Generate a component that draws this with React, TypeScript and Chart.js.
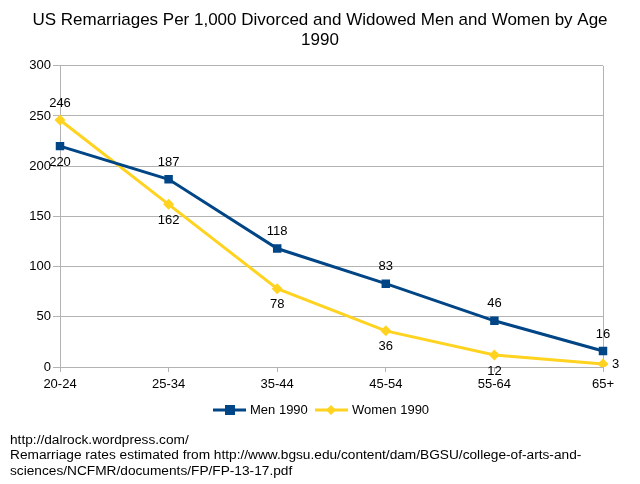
import React, { useEffect, useRef } from "react";
import { Chart, registerables } from "chart.js";

Chart.register(...registerables);

const categories = ["20-24", "25-34", "35-44", "45-54", "55-64", "65+"];
const menValues = [220, 187, 118, 83, 46, 16];
const womenValues = [246, 162, 78, 36, 12, 3];
const menLabelPlacement = ["below", "above", "above", "above", "above", "above"];
const womenLabelPlacement = ["above", "below", "below", "below", "below", "right"];
const titleLines = ["US Remarriages Per 1,000 Divorced and Widowed Men and Women by Age", "1990"];
const footerLines = [
  "http://dalrock.wordpress.com/",
  "Remarriage rates estimated from http://www.bgsu.edu/content/dam/BGSU/college-of-arts-and-",
  "sciences/NCFMR/documents/FP/FP-13-17.pdf",
];

const FONT = "'Liberation Sans', Arial, sans-serif";
const MEN_COLOR = "#004586";
const WOMEN_COLOR = "#ffd320";
const GRID = "#b3b3b3";

const labelsPlugin = {
  id: "customLabels",
  afterDatasetsDraw(chart: any) {
    const ctx = chart.ctx;
    ctx.save();
    ctx.font = `13px ${FONT}`;
    ctx.fillStyle = "#000";
    ctx.textBaseline = "middle";
    const placements = [menLabelPlacement, womenLabelPlacement];
    chart.data.datasets.forEach((ds: any, di: number) => {
      const meta = chart.getDatasetMeta(di);
      meta.data.forEach((pt: any, i: number) => {
        const p = placements[di][i];
        const text = String(ds.data[i]);
        let x = pt.x;
        let y = pt.y;
        ctx.textAlign = "center";
        if (p === "above") y -= 17;
        else if (p === "below") y += 16;
        else if (p === "right") {
          x += 9;
          ctx.textAlign = "left";
        }
        ctx.fillText(text, x, y);
      });
    });
    ctx.restore();
  },
  afterDraw(chart: any) {
    const ctx = chart.ctx;
    ctx.save();
    const ly = 410;
    ctx.font = `13px ${FONT}`;
    ctx.textBaseline = "middle";
    ctx.textAlign = "left";
    ctx.lineWidth = 3;
    ctx.strokeStyle = MEN_COLOR;
    ctx.beginPath();
    ctx.moveTo(213, ly);
    ctx.lineTo(246, ly);
    ctx.stroke();
    ctx.fillStyle = MEN_COLOR;
    ctx.fillRect(225, ly - 5, 10, 10);
    ctx.fillStyle = "#000";
    ctx.fillText("Men 1990", 250, ly);
    ctx.strokeStyle = WOMEN_COLOR;
    ctx.beginPath();
    ctx.moveTo(315, ly);
    ctx.lineTo(348, ly);
    ctx.stroke();
    ctx.fillStyle = WOMEN_COLOR;
    ctx.beginPath();
    ctx.moveTo(331, ly - 5);
    ctx.lineTo(336, ly);
    ctx.lineTo(331, ly + 5);
    ctx.lineTo(326, ly);
    ctx.closePath();
    ctx.fill();
    ctx.fillStyle = "#000";
    ctx.fillText("Women 1990", 352, ly);
    ctx.font = `13.7px ${FONT}`;
    footerLines.forEach((line, i) => {
      ctx.fillText(line, 10, 440 + i * 15.5);
    });
    ctx.restore();
  },
};

export default function App() {
  const ref = useRef<HTMLCanvasElement | null>(null);
  useEffect(() => {
    if (!ref.current) return;
    const chart = new Chart(ref.current, {
      type: "line",
      data: {
        labels: categories,
        datasets: [
          {
            label: "Men 1990",
            data: menValues,
            borderColor: MEN_COLOR,
            backgroundColor: MEN_COLOR,
            borderWidth: 3,
            pointStyle: "rect",
            pointRadius: 6,
            pointBorderWidth: 0,
            tension: 0,
          },
          {
            label: "Women 1990",
            data: womenValues,
            borderColor: WOMEN_COLOR,
            backgroundColor: WOMEN_COLOR,
            borderWidth: 3,
            pointStyle: "rectRot",
            pointRadius: 5.5,
            pointBorderWidth: 0,
            tension: 0,
          },
        ],
      },
      options: {
        animation: false,
        responsive: false,
        maintainAspectRatio: false,
        layout: { padding: { top: 0, left: 0, right: 0, bottom: 87 } },
        plugins: {
          legend: { display: false },
          tooltip: { enabled: false },
          title: {
            display: true,
            text: titleLines,
            color: "#000",
            font: { family: FONT, size: 17, weight: "normal" },
            padding: { top: 10, bottom: 15 },
          },
        },
        scales: {
          x: {
            type: "category",
            offset: false,
            grid: {
              color: (c: any) => (c.index === categories.length - 1 ? GRID : "rgba(0,0,0,0)"),
              tickColor: GRID,
              tickLength: 5,
              drawOnChartArea: true,
            },
            border: { color: GRID },
            ticks: { color: "#000", font: { family: FONT, size: 13 }, maxRotation: 0, autoSkip: false, padding: 5 },
            afterFit: (s: any) => {
              s.height = 30;
            },
          },
          y: {
            min: 0,
            max: 300,
            grid: { color: GRID, tickColor: GRID, tickLength: 7 },
            border: { color: GRID },
            ticks: { stepSize: 50, color: "#000", font: { family: FONT, size: 13 }, padding: 2 },
            afterFit: (s: any) => {
              s.width = 60;
            },
          },
          yRight: {
            position: "right",
            min: 0,
            max: 300,
            grid: { display: false, drawOnChartArea: false },
            border: { display: false },
            ticks: { display: false },
            afterFit: (s: any) => {
              s.width = 37;
            },
          },
        },
      },
      plugins: [labelsPlugin],
    });
    return () => chart.destroy();
  }, []);
  return (
    <div style={{ position: "fixed", left: 0, top: 0, width: 640, height: 484, background: "#fff" }}>
      <canvas ref={ref} width={640} height={484} />
    </div>
  );
}
